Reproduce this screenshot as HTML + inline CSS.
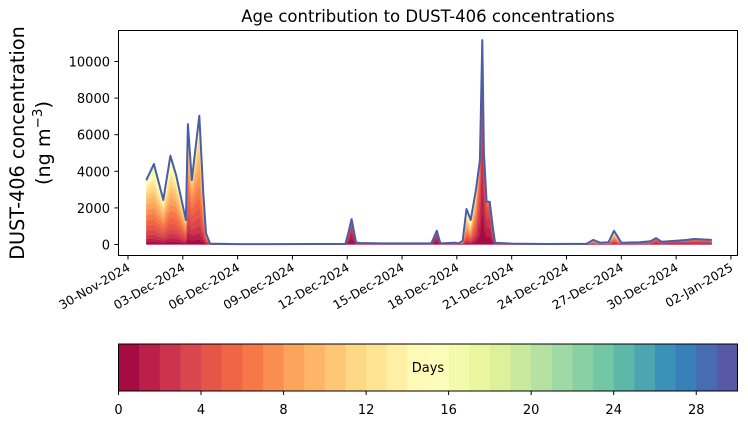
<!DOCTYPE html>
<html><head><meta charset="utf-8"><style>
body{margin:0;background:#fff;}
svg text{font-family:"DejaVu Sans","Liberation Sans",sans-serif;fill:#000;}
</style></head><body>
<svg id="chart" width="748" height="425" viewBox="0 0 748 425" xmlns="http://www.w3.org/2000/svg">
<text x="428" y="22" font-size="16.5" text-anchor="middle">Age contribution to DUST-406 concentrations</text>
<g font-size="19.2" text-anchor="middle">
<text transform="translate(24,143) rotate(-90)">DUST-406 concentration</text>
<text transform="translate(50,143) rotate(-90)">(ng m<tspan font-size="13.5" dy="-8">−3</tspan><tspan dy="8">)</tspan></text>
</g>
<g id="layers"></g>
<g id="yaxis"></g>
<g id="xaxis"></g>
<rect x="118.5" y="30.5" width="619" height="225" fill="none" stroke="#000" stroke-width="1"/>
<g id="cbar"></g>
<text x="428" y="372" font-size="13" text-anchor="middle">Days</text>
</svg>
<script>
// data: time in days since 30-Nov-2024 00:00
const times = [1.0,1.42,1.93,2.32,2.63,3.17,3.28,3.49,3.9,4.12,4.27,4.49,6,8,10,11.9,12.05,12.24,12.48,12.7,14,15,16.6,16.9,17.1,17.9,18.1,18.32,18.53,18.76,19.04,19.26,19.39,19.48,19.63,19.8,19.96,20.09,21,23,25.1,25.47,25.83,26.3,26.6,27.0,28,28.6,28.9,29.2,30,30.6,31,31.4,31.95];
const totals = [3520,4400,2430,4850,3800,1340,6580,3520,7040,2800,620,50,20,20,30,30,600,1390,120,80,60,60,60,750,60,100,60,200,1940,1340,2980,4600,11170,5000,2340,2340,1000,100,50,30,40,250,100,120,750,100,120,180,350,150,200,250,300,280,250];
const meanAges = [7,8,7,8,7,6,6,5,7,6,5,5,5,5,5,5,2,1.5,3,3,3,3,3,1.5,3,3,5,7,8,8,6,3,2,2,2,2,3,4,4,4,5,6,6,6,7,5,4,4,3,3,2,3,3,3,3];
const yTicks = [0,2000,4000,6000,8000,10000];
const xTickDays = [0,3,6,9,12,15,18,21,24,27,30,33];
const xTickLabels = ["30-Nov-2024","03-Dec-2024","06-Dec-2024","09-Dec-2024","12-Dec-2024","15-Dec-2024","18-Dec-2024","21-Dec-2024","24-Dec-2024","27-Dec-2024","30-Dec-2024","02-Jan-2025"];
const cbarTicks = [0,4,8,12,16,20,24,28];
const nAges = 30;

const NS="http://www.w3.org/2000/svg";
const X = d => 128 + d*18.27;
const Y = v => 244.5 - v*0.0183;
const CX = a => 118.5 + a*(619/30);
const stops=[[158,1,66],[213,62,79],[244,109,67],[253,174,97],[254,224,139],[255,255,191],[230,245,152],[171,221,164],[102,194,165],[50,136,189],[94,79,162]];
function spectral(t){const p=t*10,i=Math.min(9,Math.floor(p)),f=p-i,a=stops[i],b=stops[i+1];
 return `rgb(${[0,1,2].map(j=>Math.round(a[j]+(b[j]-a[j])*f)).join(',')})`;}
function mk(tag,attrs,parent){const e=document.createElementNS(NS,tag);for(const k in attrs)e.setAttribute(k,attrs[k]);parent.appendChild(e);return e;}

const layers=document.getElementById('layers');
const cum = times.map((t,i)=>{const m=meanAges[i],s=m*0.6+1;const w=[];let sum=0;
 for(let k=0;k<nAges;k++){const v=Math.exp(-0.5*Math.pow((k+0.5-m)/s,2));w.push(v);sum+=v;}
 const c=[0];for(let k=0;k<nAges;k++)c.push(c[k]+w[k]/sum*totals[i]);return c;});
for(let k=0;k<nAges;k++){
 let pts=times.map((t,i)=>X(t).toFixed(1)+','+Y(cum[i][k+1]).toFixed(1));
 for(let i=times.length-1;i>=0;i--)pts.push(X(times[i]).toFixed(1)+','+Y(cum[i][k]).toFixed(1));
 const p=mk('polygon',{points:pts.join(' '),fill:spectral((k+0.5)/nAges),stroke:spectral((k+0.5)/nAges),'stroke-width':0.3},layers);
 
 
}
const line=mk('polyline',{points:times.map((t,i)=>X(t).toFixed(1)+','+Y(totals[i]).toFixed(1)).join(' '),fill:'none',stroke:'#4a5ea8','stroke-width':2,'stroke-linejoin':'round'},layers);



const ya=document.getElementById('yaxis');
yTicks.forEach(v=>{const y=Y(v);
 mk('line',{x1:114.5,x2:118.5,y1:y,y2:y,stroke:'#000'},ya);
 const t=mk('text',{x:110,y:y+5,'font-size':13,'text-anchor':'end'},ya);t.textContent=v;
 
 
});
const xa=document.getElementById('xaxis');
xTickDays.forEach((d,i)=>{const x=X(d);
 mk('line',{x1:x,x2:x,y1:255.5,y2:259.5,stroke:'#000'},xa);
 const t=mk('text',{x:0,y:0,'font-size':12.3,'text-anchor':'end',transform:`translate(${x+3},${270}) rotate(-30)`},xa);t.textContent=xTickLabels[i];
 
 
});
const cb=document.getElementById('cbar');
for(let k=0;k<nAges;k++){const r=mk('rect',{x:CX(k),y:344,width:619/30+0.5,height:47,fill:spectral((k+0.5)/nAges)},cb);
 
 }
mk('rect',{x:118.5,y:344,width:619,height:47,fill:'none',stroke:'#000'},cb);
cbarTicks.forEach(a=>{const x=CX(a);mk('line',{x1:x,x2:x,y1:391,y2:395,stroke:'#000'},cb);
 const t=mk('text',{x:x,y:414,'font-size':13,'text-anchor':'middle'},cb);t.textContent=a;
 
 });
</script>
</body></html>
